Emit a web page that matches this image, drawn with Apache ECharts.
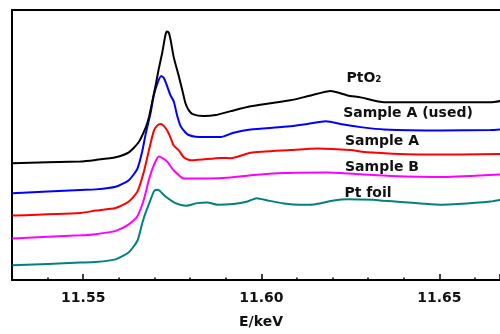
<!DOCTYPE html>
<html>
<head>
<meta charset="utf-8">
<script src="https://cdn.jsdelivr.net/npm/echarts@6/dist/echarts.min.js"></script>
<style>html,body{margin:0;padding:0;background:#fff}#c{width:500px;height:334px}</style>
</head>
<body>
<div id="c"></div>
<script>
// Energies (keV) and normalized absorption (arbitrary units, offset per sample)
const ptO2E = [11.5301,11.5492,11.5535,11.5591,11.5628,11.5655,11.5675,11.5684,11.5695,11.5703,11.5712,11.5722,11.5731,11.5735,11.5740,11.5745,11.5754,11.5768,11.5779,11.5787,11.5796,11.5807,11.5838,11.5872,11.5914,11.5970,11.6026,11.6082,11.6139,11.6195,11.6242,11.6279,11.6344,11.6447,11.6560,11.6644,11.6672];
const ptO2V = [1.19,1.207,1.223,1.25,1.30,1.40,1.55,1.65,1.84,1.98,2.15,2.32,2.50,2.53,2.52,2.45,2.27,2.08,1.92,1.80,1.73,1.69,1.67,1.68,1.72,1.77,1.80,1.83,1.88,1.925,1.88,1.86,1.81,1.81,1.81,1.81,1.823];

const usedE = [11.5301,11.5492,11.5535,11.5591,11.5628,11.5652,11.5666,11.5675,11.5689,11.5698,11.5709,11.5719,11.5726,11.5736,11.5745,11.5754,11.5764,11.5773,11.5785,11.5796,11.5816,11.5886,11.5922,11.5970,11.6063,11.6130,11.6181,11.6231,11.6279,11.6344,11.6504,11.6644,11.6672];
const usedV = [0.883,0.917,0.923,0.95,1.017,1.133,1.317,1.483,1.70,1.88,2.01,2.077,2.06,1.97,1.88,1.82,1.67,1.57,1.51,1.477,1.46,1.457,1.50,1.533,1.56,1.59,1.617,1.583,1.557,1.533,1.523,1.527,1.533];

const sampleAE = [11.5301,11.5492,11.5535,11.5591,11.5628,11.5652,11.5670,11.5684,11.5698,11.5708,11.5717,11.5726,11.5736,11.5745,11.5754,11.5769,11.5782,11.5797,11.5810,11.5886,11.5914,11.5970,11.6082,11.6158,11.6251,11.6299,11.6456,11.6672];
const sampleAV = [0.657,0.683,0.707,0.733,0.80,0.90,1.10,1.317,1.517,1.575,1.59,1.57,1.52,1.45,1.37,1.317,1.25,1.223,1.22,1.243,1.24,1.295,1.323,1.34,1.323,1.30,1.277,1.283];

const sampleBE = [11.5301,11.5492,11.5535,11.5591,11.5628,11.5652,11.5670,11.5684,11.5698,11.5712,11.5726,11.5737,11.5754,11.5783,11.5848,11.5914,11.5970,11.6063,11.6186,11.6279,11.6363,11.6512,11.6672];
const sampleBV = [0.423,0.455,0.467,0.50,0.567,0.65,0.817,1.017,1.167,1.257,1.233,1.20,1.117,1.033,1.033,1.043,1.067,1.09,1.095,1.077,1.06,1.05,1.075];

const foilE = [11.5301,11.5492,11.5535,11.5591,11.5628,11.5652,11.5666,11.5675,11.5689,11.5698,11.5703,11.5710,11.5717,11.5731,11.5759,11.5788,11.5820,11.5848,11.5876,11.5922,11.5961,11.5987,11.6018,11.6063,11.6110,11.6147,11.6203,11.6242,11.6315,11.6344,11.6391,11.6456,11.6504,11.6551,11.6644,11.6672];
const foilV = [0.15,0.177,0.183,0.21,0.283,0.40,0.583,0.683,0.817,0.90,0.917,0.92,0.90,0.85,0.783,0.757,0.783,0.79,0.767,0.775,0.80,0.833,0.81,0.78,0.767,0.77,0.81,0.823,0.817,0.807,0.795,0.777,0.767,0.773,0.80,0.817];

const seriesNames = ['PtO₂','Sample A (used)','Sample A','Sample B','Pt foil'];
const xTitle = 'E/keV';

const pairs = (e, v) => e.map((x, i) => [x, v[i]]);
const lineSet = [
  {e: foilE, v: foilV, color: '#008080', name: seriesNames[4]},
  {e: sampleBE, v: sampleBV, color: '#ff00ff', name: seriesNames[3]},
  {e: sampleAE, v: sampleAV, color: '#ff0000', name: seriesNames[2]},
  {e: usedE, v: usedV, color: '#0000ff', name: seriesNames[1]},
  {e: ptO2E, v: ptO2V, color: '#000000', name: seriesNames[0]}
];

const chart = echarts.init(document.getElementById('c'), null, {renderer: 'canvas'});
const labelFont = 'bold 14px "DejaVu Sans"';
const labelPos = [[364, 78], [408, 113], [382, 141], [382, 167], [368, 193]];

chart.setOption({
  animation: false,
  backgroundColor: '#fff',
  grid: {left: 12, top: 10, right: 0, bottom: 50},
  xAxis: [{
    type: 'value', min: 11.53, max: 11.667, splitNumber: 3,
    minInterval: 0.05, maxInterval: 0.05,
    axisLine: {show: true, lineStyle: {color: '#000', width: 2}},
    axisTick: {show: true, inside: true, length: 6, lineStyle: {color: '#000', width: 1.5}},
    minorTick: {show: true, splitNumber: 5, length: 2.5, lineStyle: {color: '#000', width: 1.5}},
    axisLabel: {showMinLabel: false, showMaxLabel: false, color: '#111', fontFamily: 'DejaVu Sans', fontWeight: 'bold', fontSize: 14, margin: 11,
      formatter: v => v.toFixed(2)},
    splitLine: {show: false},
    name: xTitle, nameLocation: 'middle', nameGap: 35,
    nameTextStyle: {color: '#111', fontFamily: 'DejaVu Sans', fontWeight: 'bold', fontSize: 14, padding: [0, 0, 0, 10]}
  }, {
    type: 'value', position: 'top', min: 11.53, max: 11.667,
    axisLine: {show: true, lineStyle: {color: '#000', width: 2}},
    axisTick: {show: false}, axisLabel: {show: false}, splitLine: {show: false}
  }],
  yAxis: {
    type: 'value', min: 0, max: 2.75,
    axisLine: {show: true, lineStyle: {color: '#000', width: 2}},
    axisTick: {show: false}, axisLabel: {show: false}, splitLine: {show: false}
  },
  series: lineSet.map((s, i) => ({
    type: 'line', name: s.name, data: pairs(s.e, s.v), showSymbol: false, smooth: 0.2,
    lineStyle: {color: s.color, width: 2}, itemStyle: {color: s.color}, z: 2 + i
  })),
  graphic: seriesNames.map((t, i) => ({
    type: 'text', x: labelPos[i][0], y: labelPos[i][1],
    style: {text: t, font: labelFont, fill: '#111', textAlign: 'center', textVerticalAlign: 'middle'}
  }))
});
</script>
</body>
</html>
